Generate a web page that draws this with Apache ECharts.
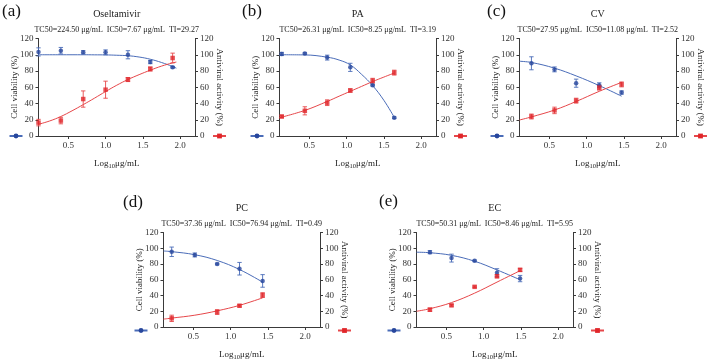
<!DOCTYPE html>
<html>
<head>
<meta charset="utf-8">
<script src="https://cdn.jsdelivr.net/npm/echarts@6/dist/echarts.min.js"></script>
<style>
  html, body { margin: 0; padding: 0; background: #fff; }
  #chart { width: 709px; height: 362px; }
</style>
</head>
<body>
<div id="chart"></div>
<script>
// --- data ---
const xTicks = [0.5, 1.0, 1.5, 2.0];

const panelNames = ['Oseltamivir', 'PA', 'CV', 'PC', 'EC'];
const panelLetters = ['(a)', '(b)', '(c)', '(d)', '(e)'];
const panelStats = [
  'TC50=224.50 μg/mL  IC50=7.67 μg/mL  TI=29.27',
  'TC50=26.31 μg/mL  IC50=8.25 μg/mL  TI=3.19',
  'TC50=27.95 μg/mL  IC50=11.08 μg/mL  TI=2.52',
  'TC50=37.36 μg/mL  IC50=76.94 μg/mL  TI=0.49',
  'TC50=50.31 μg/mL  IC50=8.46 μg/mL  TI=5.95'
];

// (a) Oseltamivir
const aX = [0.1, 0.4, 0.7, 1.0, 1.3, 1.6, 1.9];
const aViab = [103.5, 105, 103, 103, 100, 91, 84.5];
const aViabErr = [5, 4, 2, 3, 5, 2, 1];
const aAntiX = [0.1, 0.4, 0.7, 1.0, 1.3, 1.6, 1.9];
const aAnti = [16.5, 19, 45.5, 57, 69.5, 82.5, 96];
const aAntiErr = [4, 4, 10, 10.5, 2.5, 2.5, 6];
const aFitX = [0.1, 0.25, 0.4, 0.55, 0.7, 0.85, 1.0, 1.15, 1.3, 1.45, 1.6, 1.75, 1.9, 1.95];
const aViabFit = [100, 100, 100, 100, 100, 99.9, 99.8, 99.4, 98.8, 97.2, 94.5, 90.5, 85.5, 83.5];
const aAntiFit = [14.4, 18.5, 24, 31, 38.6, 46.5, 54.7, 62.5, 69.5, 75.5, 81, 86, 90, 91];

// (b) PA
const bX = [0.13, 0.44, 0.74, 1.05, 1.35, 1.64];
const bViab = [101, 101.5, 96.5, 84.5, 62.5, 22.5];
const bViabErr = [2, 1, 3, 5, 1, 1];
const bAntiX = [0.13, 0.44, 0.74, 1.05, 1.35, 1.64];
const bAnti = [24, 31, 41, 56, 68, 78];
const bAntiErr = [1.5, 5, 3.5, 2, 3, 3];
const bFitX = [0.1, 0.44, 0.74, 0.9, 1.05, 1.2, 1.35, 1.5, 1.64];
const bViabFit = [100, 99.8, 97, 93.5, 87.5, 76, 62, 44, 23];
const bAntiFit = [22.5, 31.5, 42.5, 49, 55, 61, 67, 72.5, 77.5];

// (c) CV
const cX = [0.26, 0.57, 0.86, 1.17, 1.47];
const cViab = [89.5, 82, 65, 62.5, 53.5];
const cViabErr = [8, 3, 5, 3, 2];
const cAntiX = [0.26, 0.57, 0.86, 1.17, 1.47];
const cAnti = [24, 31.5, 43.5, 59.5, 63.5];
const cAntiErr = [3, 4, 3, 3, 3];
const cFitX = [0.1, 0.26, 0.57, 0.86, 1.17, 1.47];
const cViabFit = [92, 90.5, 83.5, 74, 62, 49];
const cAntiFit = [19.7, 23.5, 32, 42.5, 55, 66];

// (d) PC
const dX = [0.21, 0.52, 0.82, 1.12, 1.43];
const dViab = [95.5, 91.5, 80, 74, 58.5];
const dViabErr = [6, 2.5, 1, 8, 8];
const dAntiX = [0.21, 0.82, 1.12, 1.43];
const dAnti = [11, 19, 27, 40.5];
const dAntiErr = [4, 3, 1.5, 3];
const dFitX = [0.1, 0.21, 0.52, 0.82, 1.12, 1.43];
const dViabFit = [96.5, 95.7, 91.8, 84.5, 73, 57];
const dAntiFit = [10, 11.3, 15, 20.5, 27.5, 37];

// (e) EC
const eX = [0.28, 0.57, 0.88, 1.18, 1.49];
const eViab = [95, 87.5, 84, 69, 61.5];
const eViabErr = [2, 5, 1, 5, 4];
const eAntiX = [0.28, 0.57, 0.88, 1.18, 1.49];
const eAnti = [22, 27.5, 51, 64.5, 72.5];
const eAntiErr = [2, 1, 1, 2, 2];
const eFitX = [0.1, 0.28, 0.57, 0.88, 1.18, 1.49];
const eViabFit = [95, 94.3, 91, 83.5, 72.5, 60];
const eAntiFit = [20, 23.2, 31, 43, 57, 71.5];

const panelData = [
  [aX, aViab, aViabErr, aAntiX, aAnti, aAntiErr, aFitX, aViabFit, aAntiFit],
  [bX, bViab, bViabErr, bAntiX, bAnti, bAntiErr, bFitX, bViabFit, bAntiFit],
  [cX, cViab, cViabErr, cAntiX, cAnti, cAntiErr, cFitX, cViabFit, cAntiFit],
  [dX, dViab, dViabErr, dAntiX, dAnti, dAntiErr, dFitX, dViabFit, dAntiFit],
  [eX, eViab, eViabErr, eAntiX, eAnti, eAntiErr, eFitX, eViabFit, eAntiFit]
];

// --- layout ---
const grids = [
  { left: 38.5, top: 38.5, width: 156.5, height: 97.5 },
  { left: 279.5, top: 38.5, width: 156.5, height: 97.5 },
  { left: 519.5, top: 38.5, width: 156.5, height: 97.5 },
  { left: 163.5, top: 232.5, width: 156.5, height: 98 },
  { left: 416.5, top: 232.5, width: 156.5, height: 98 }
];
const letterPos = [[2, 3], [242, 3], [487, 3], [123, 194], [379, 193]];

const FONT = '"Liberation Serif", "Times New Roman", serif';
const BLUE = '#27469c';
const BLUE_LINE = '#4a6cb8';
const RED = '#e0262a';
const RED_LINE = '#e6474a';
const AXIS = '#3a3a3a';

const zip = (xs, ys, es) => xs.map((x, i) => es ? [x, ys[i], es[i]] : [x, ys[i]]);

const errorBar = (color) => (params, api) => {
  const x = api.value(0), y = api.value(1), e = api.value(2);
  const top = api.coord([x, y + e]);
  const bot = api.coord([x, y - e]);
  const cap = 2.2;
  const style = { stroke: color, lineWidth: 0.9 };
  return {
    type: 'group',
    children: [
      { type: 'line', shape: { x1: top[0], y1: top[1], x2: bot[0], y2: bot[1] }, style },
      { type: 'line', shape: { x1: top[0] - cap, y1: top[1], x2: top[0] + cap, y2: top[1] }, style },
      { type: 'line', shape: { x1: bot[0] - cap, y1: bot[1], x2: bot[0] + cap, y2: bot[1] }, style }
    ]
  };
};

const titles = [], xAxes = [], yAxes = [], series = [], legends = [];

grids.forEach((g, i) => {
  const cx = g.left + g.width / 2;
  const [X, V, VE, AX, A, AE, FX, VF, AF] = panelData[i];

  titles.push({
    text: panelLetters[i], left: letterPos[i][0], top: letterPos[i][1], padding: 0,
    textStyle: { fontFamily: FONT, fontSize: 17, fontWeight: 'normal', color: '#111' }
  });
  titles.push({
    text: panelNames[i], left: cx, top: g.top - 29, textAlign: 'center', padding: 0,
    textStyle: { fontFamily: FONT, fontSize: 10, fontWeight: 'normal', color: '#222' }
  });
  titles.push({
    text: panelStats[i], left: cx, top: g.top - 13, textAlign: 'center', padding: 0,
    textStyle: { fontFamily: FONT, fontSize: 8, fontWeight: 'normal', color: '#222' }
  });

  xAxes.push({
    type: 'value', gridIndex: i, min: 0.1, max: 2.2,
    name: '{a|Log}{s|10}{a|μg/mL}', nameLocation: 'middle', nameGap: 21,
    nameMoveOverlap: false,
    nameTextStyle: {
      rich: {
        a: { fontFamily: FONT, fontSize: 9, color: '#222' },
        s: { fontFamily: FONT, fontSize: 6.5, color: '#222', verticalAlign: 'bottom', padding: [6, 0, 0, 0] }
      }
    },
    axisLine: { lineStyle: { color: AXIS, width: 1 } },
    axisTick: { show: true, length: 3, lineStyle: { color: AXIS }, customValues: xTicks },
    axisLabel: {
      customValues: xTicks, formatter: v => v.toFixed(1),
      fontFamily: FONT, fontSize: 9, color: '#333', margin: 5
    },
    splitLine: { show: false }
  });

  const yBase = {
    type: 'value', gridIndex: i, min: 0, max: 120, interval: 20,
    nameLocation: 'middle', nameMoveOverlap: false,
    nameTextStyle: { fontFamily: FONT, fontSize: 9, color: '#222' },
    axisLine: { show: true, lineStyle: { color: AXIS, width: 1 } },
    axisTick: { show: true, length: 3, lineStyle: { color: AXIS } },
    axisLabel: { fontFamily: FONT, fontSize: 9, color: '#333', margin: 5 },
    splitLine: { show: false }
  };
  yAxes.push(Object.assign({}, yBase, { position: 'left', name: 'Cell viability (%)', nameGap: 19, nameRotate: 90 }));
  yAxes.push(Object.assign({}, yBase, { position: 'right', name: 'Antiviral activity (%)', nameGap: 20, nameRotate: -90 }));

  const yL = i * 2, yR = i * 2 + 1;
  const vName = 'Cell viability ' + panelLetters[i];
  const aName = 'Antiviral activity ' + panelLetters[i];

  series.push({
    name: vName, type: 'line', xAxisIndex: i, yAxisIndex: yL,
    data: zip(FX, VF), smooth: 0.4, showSymbol: false, symbol: 'circle',
    color: BLUE, lineStyle: { color: BLUE_LINE, width: 1 }, z: 2, silent: true
  });
  series.push({
    name: aName, type: 'line', xAxisIndex: i, yAxisIndex: yR,
    data: zip(FX, AF), smooth: 0.4, showSymbol: false, symbol: 'rect',
    color: RED, lineStyle: { color: RED_LINE, width: 1 }, z: 2, silent: true
  });
  series.push({
    type: 'custom', xAxisIndex: i, yAxisIndex: yL, data: zip(X, V, VE),
    renderItem: errorBar(BLUE_LINE), z: 3, silent: true
  });
  series.push({
    type: 'custom', xAxisIndex: i, yAxisIndex: yR, data: zip(AX, A, AE),
    renderItem: errorBar(RED_LINE), z: 3, silent: true
  });
  series.push({
    type: 'scatter', xAxisIndex: i, yAxisIndex: yL, data: zip(X, V),
    symbol: 'circle', symbolSize: 4.5, itemStyle: { color: BLUE }, z: 4, silent: true
  });
  series.push({
    type: 'scatter', xAxisIndex: i, yAxisIndex: yR, data: zip(AX, A),
    symbol: 'rect', symbolSize: 4.5, itemStyle: { color: RED }, z: 4, silent: true
  });

  legends.push({
    data: [vName], left: g.left - 30, top: g.top + g.height - 3,
    itemWidth: 13, itemHeight: 6, itemGap: 0, padding: 0,
    formatter: () => '', selectedMode: false, textStyle: { fontSize: 1 }
  });
  legends.push({
    data: [aName], left: g.left + g.width + 17, top: g.top + g.height - 3,
    itemWidth: 13, itemHeight: 6, itemGap: 0, padding: 0,
    formatter: () => '', selectedMode: false, textStyle: { fontSize: 1 }
  });
});

const chart = echarts.init(document.getElementById('chart'), null, { renderer: 'canvas' });
chart.setOption({
  backgroundColor: '#fff',
  animation: false,
  title: titles,
  legend: legends,
  grid: grids,
  xAxis: xAxes,
  yAxis: yAxes,
  series: series
});
</script>
</body>
</html>
